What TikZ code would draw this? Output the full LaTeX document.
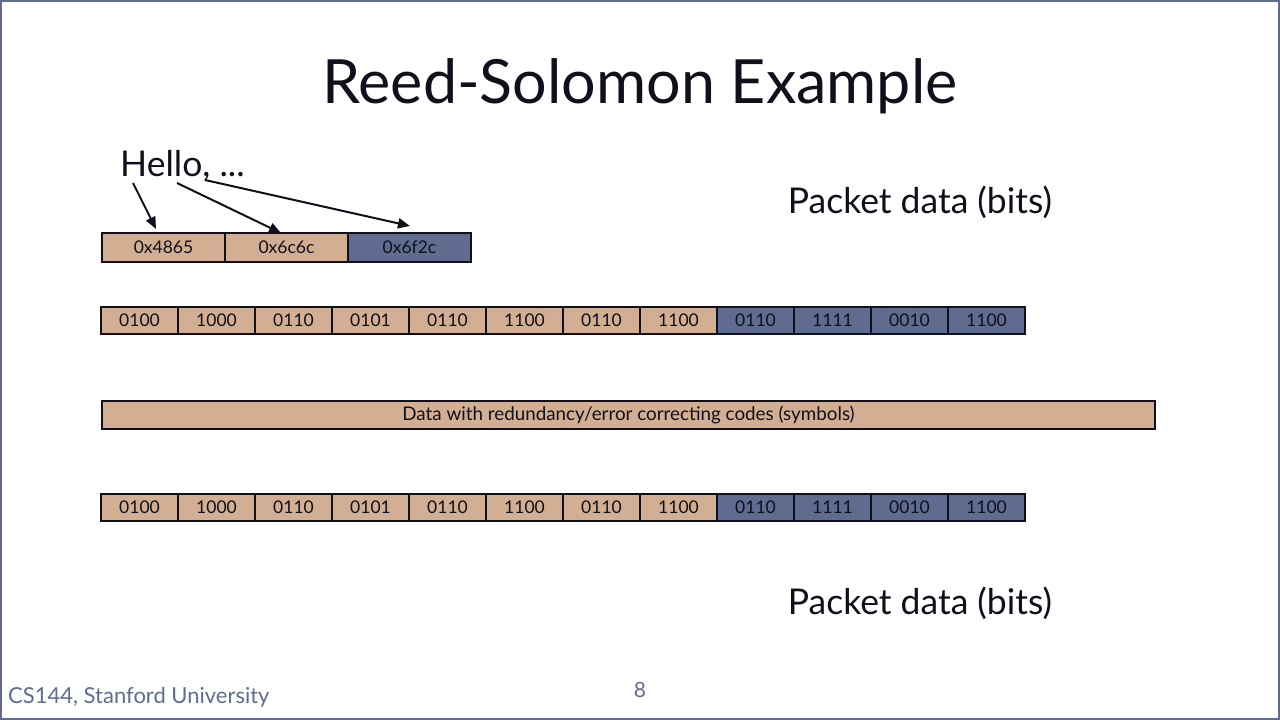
\documentclass[tikz,border=0pt]{standalone}
\usepackage{fontspec}
\setmainfont{Lato}
\usetikzlibrary{arrows.meta}
\definecolor{tanc}{HTML}{D2AF93}
\definecolor{slate}{HTML}{5F6B8F}
\definecolor{inkc}{HTML}{10101C}
\tikzset{
  cell/.style={draw=inkc, line width=2bp, minimum height=27bp, inner sep=0pt, text=inkc, font=\fontsize{17.5bp}{19bp}\selectfont},
  tancell/.style={cell, fill=tanc},
  bluecell/.style={cell, fill=slate},
  arr/.style={line width=2bp, draw=inkc, -{Triangle[length=12bp,width=10bp]}},
  big/.style={font=\fontsize{35.5bp}{40bp}\selectfont, text=inkc, inner sep=0pt},
  hexcell/.style={minimum width=123bp, minimum height=29bp, font=\fontsize{17.5bp}{19bp}\selectfont},
}
\begin{document}
\begin{tikzpicture}[x=1bp,y=-1bp]
\useasboundingbox (0,0) rectangle (1280,720);
\draw[slate, line width=3bp] (0.5,0.5) rectangle (1279.5,719.5);

\node[font=\fontsize{61bp}{70bp}\selectfont, text=inkc, inner sep=0pt] (title) at (640,86) {Reed-Solomon Example};

\node[big, anchor=west] (hello) at (120,166) {Hello, ...};
\node[big] (pd1) at (920,202) {Packet data (bits)};
\node[big] (pd2) at (920,603) {Packet data (bits)};

% row 1
\node[tancell, hexcell] (h1) at (163.5,247.5) {0x4865};
\node[tancell, hexcell] (h2) at (286.5,247.5) {0x6c6c};
\node[bluecell, hexcell] (h3) at (409.5,247.5) {0x6f2c};

\coordinate (s1) at (133,183);
\coordinate (s2) at (177,183);
\coordinate (s3) at (205,180);
\coordinate (t1) at (156,229);
\coordinate (t2) at (281,233);
\coordinate (t3) at (410,226);
\draw[arr] (s1) -- (t1);
\draw[arr] (s2) -- (t2);
\draw[arr] (s3) -- (t3);

% rows 2 and 4
\foreach \row/\yy in {a/320.5, b/507.5}{
  \foreach \i/\txt in {1/0100,2/1000,3/0110,4/0101,5/0110,6/1100,7/0110,8/1100}{
    \node[tancell, minimum width=77bp] (\row\i) at ({101+77*(\i-0.5)},\yy) {\txt};
  }
  \foreach \i/\txt in {9/0110,10/1111,11/0010,12/1100}{
    \node[bluecell, minimum width=77bp] (\row\i) at ({101+77*(\i-0.5)},\yy) {\txt};
  }
}

% row 3
\node[tancell, minimum width=1053bp, minimum height=28bp, font=\fontsize{18.8bp}{20bp}\selectfont] (code) at (628.5,415) {Data with redundancy/error correcting codes (symbols)};

\node[font=\fontsize{22bp}{24bp}\selectfont, text=slate, anchor=west, inner sep=0pt] (foot) at (8,697) {CS144, Stanford University};
\node[font=\fontsize{21bp}{23bp}\selectfont, text=slate, inner sep=0pt] (page) at (640,690) {8};
\end{tikzpicture}
\end{document}
